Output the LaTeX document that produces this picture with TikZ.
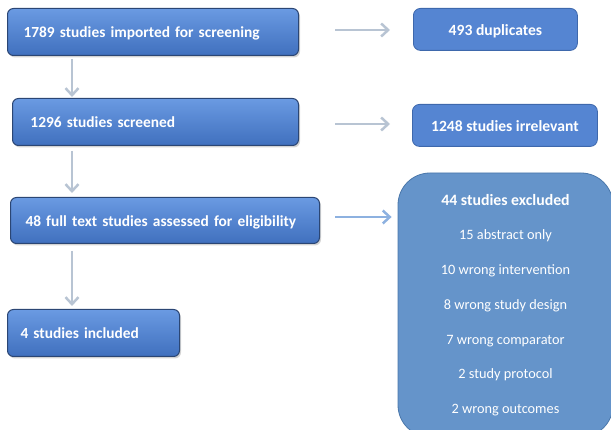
\documentclass[tikz,border=0pt]{standalone}
\usepackage{fontspec}
\setmainfont{Carlito}
\usetikzlibrary{arrows.meta,shadows}
\definecolor{steptop}{HTML}{6A9AE2}
\definecolor{stepmid}{HTML}{5888D6}
\definecolor{stepbottom}{HTML}{4070BE}
\definecolor{stepedge}{HTML}{2B4674}
\definecolor{sidefill}{HTML}{5585D2}
\definecolor{sideedge}{HTML}{3E68AC}
\definecolor{exclfill}{HTML}{6594CA}
\definecolor{excledge}{HTML}{4A77AA}
\definecolor{arrowgray}{HTML}{B8C4D3}
\definecolor{arrowblue}{HTML}{8DB1E0}
\begin{document}
\begin{tikzpicture}[x=1pt,y=-1pt,
  stepbox/.style={draw=stepedge, line width=1pt, rounded corners=6pt,
    top color=steptop, middle color=stepmid, bottom color=stepbottom,
    drop shadow={opacity=0.35, shadow xshift=1.5pt, shadow yshift=-2pt},
    text=white, font=\bfseries\fontsize{15.4}{18}\selectfont,
    text height=12pt, text depth=0pt,
    align=left, anchor=north west, inner ysep=0pt},
  sidebox/.style={draw=sideedge, line width=0.8pt, rounded corners=7pt,
    fill=sidefill, text=white, font=\bfseries\fontsize{15.6}{18}\selectfont,
    text height=12pt, text depth=0pt,
    anchor=north west, inner sep=0pt},
  flowarrow/.style={draw=arrowgray, line width=2.5pt,
    -{Straight Barb[length=7pt,width=13pt]}},
]
\useasboundingbox (0,0) rectangle (611,430);

% main flow
\node[stepbox, minimum width=291pt, minimum height=47pt, inner xsep=16pt, text width=259pt]
  (imported) at (7,8) {1789 studies imported for screening};
\node[stepbox, minimum width=286pt, minimum height=47pt, inner xsep=18pt, text width=250pt]
  (screened) at (12,98) {1296 studies screened};
\node[stepbox, minimum width=309pt, minimum height=46pt, inner xsep=15pt, text width=279pt]
  (fulltext) at (10,197) {48 full text studies assessed for eligibility};
\node[stepbox, minimum width=172pt, minimum height=47pt, inner xsep=13pt, text width=146pt]
  (included) at (7,309) {4 studies included};

% side results
\node[sidebox, minimum width=164pt, minimum height=42pt] (dup) at (413,8) {493 duplicates};
\node[sidebox, minimum width=185pt, minimum height=42pt] (irrel) at (412,104) {1248 studies irrelevant};
\node[draw=excledge, line width=0.8pt, rounded corners=32pt, fill=exclfill, text=white,
  minimum width=215pt, minimum height=264pt, align=center,
  font=\fontsize{14.3}{34.7}\selectfont] (excl) at (505.5,305)
  {{\bfseries\fontsize{15.8}{34.7}\selectfont 44 studies excluded}\\
   15 abstract only\\
   10 wrong intervention\\
   8 wrong study design\\
   7 wrong comparator\\
   2 study protocol\\
   2 wrong outcomes};

% connectors
\coordinate (vx) at (72,0);
\draw[flowarrow, shorten <=3pt, shorten >=1pt] (imported.south -| vx) -- (screened.north -| vx);
\draw[flowarrow, shorten <=5pt, shorten >=4pt] (screened.south -| vx) -- (fulltext.north -| vx);
\draw[flowarrow, shorten <=7pt, shorten >=3pt] (fulltext.south -| vx) -- (included.north -| vx);

\coordinate (h1) at (335,30);
\coordinate (h2) at (335,124);
\coordinate (h3) at (335,217);
\draw[flowarrow, shorten >=23pt] (h1) -- (dup.west |- h1);
\draw[flowarrow, shorten >=22pt] (h2) -- (irrel.west |- h2);
\draw[flowarrow, draw=arrowblue, shorten >=6pt] (h3) -- (excl.west |- h3);
\end{tikzpicture}
\end{document}
